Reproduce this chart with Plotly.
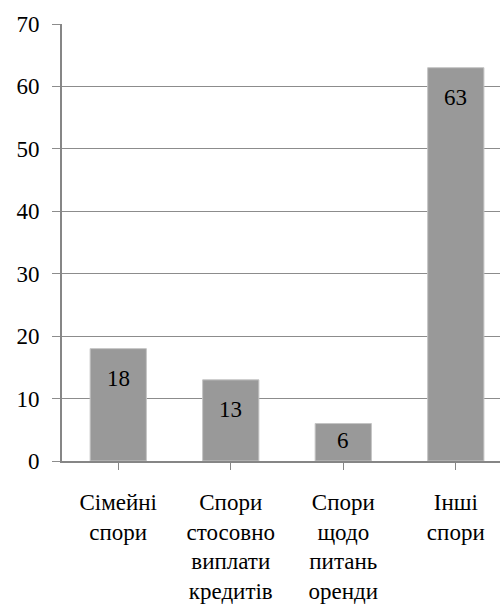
import plotly.graph_objects as go

categories = ["Сімейні<br>спори", "Спори<br>стосовно<br>виплати<br>кредитів", "Спори<br>щодо<br>питань<br>оренди", "Інші<br>спори"]
values = [18, 13, 6, 63]
y_ticks = [0, 10, 20, 30, 40, 50, 60, 70]

FONT = "Liberation Serif, Times New Roman, serif"
W, H = 500, 604
ML, MR, MT, MB = 62, 0, 23.5, 140
plot_h = H - MT - MB
px_per_unit = plot_h / (y_ticks[-1] - y_ticks[0])

fig = go.Figure()
fig.add_trace(go.Bar(
    x=list(range(len(categories))), y=values, width=0.5,
    marker=dict(color="#999999", line=dict(color="#c4c4c4", width=1)),
    hoverinfo="skip",
))

for i, v in enumerate(values):
    shift = min(30, v * px_per_unit * 0.45)
    fig.add_annotation(x=i, y=v, text=str(v), showarrow=False,
                       yanchor="middle", yshift=-shift,
                       font=dict(family=FONT, size=23, color="black"))

fig.update_layout(
    width=W, height=H,
    margin=dict(l=ML, r=MR, t=MT, b=MB, pad=0),
    paper_bgcolor="white", plot_bgcolor="white",
    showlegend=False,
    font=dict(family=FONT, size=23, color="black"),
    xaxis=dict(
        range=[-0.5, 3.393],
        tickmode="array",
        tickvals=list(range(len(categories))),
        ticktext=categories,
        showgrid=False,
        showline=True, linecolor="#868686", linewidth=2,
        ticks="outside", ticklen=7, tickcolor="#868686", tickwidth=1,
        tickson="boundaries",
        ticklabelstandoff=12,
        tickfont=dict(family=FONT, size=23, color="black"),
        zeroline=False,
        fixedrange=True,
    ),
    yaxis=dict(
        range=[0, 70],
        tickmode="array", tickvals=y_ticks,
        showgrid=True, gridcolor="#8c8c8c", gridwidth=1,
        showline=True, linecolor="#868686", linewidth=2,
        ticks="outside", ticklen=8, tickcolor="#8c8c8c", tickwidth=1,
        ticklabelstandoff=8,
        tickfont=dict(family=FONT, size=23, color="black"),
        zeroline=False,
        fixedrange=True,
    ),
)

fig.write_html(
    "out.html",
    config={"displayModeBar": False},
    post_script="document.body.style.margin='0';document.body.style.padding='0';document.body.style.overflow='hidden';",
)
